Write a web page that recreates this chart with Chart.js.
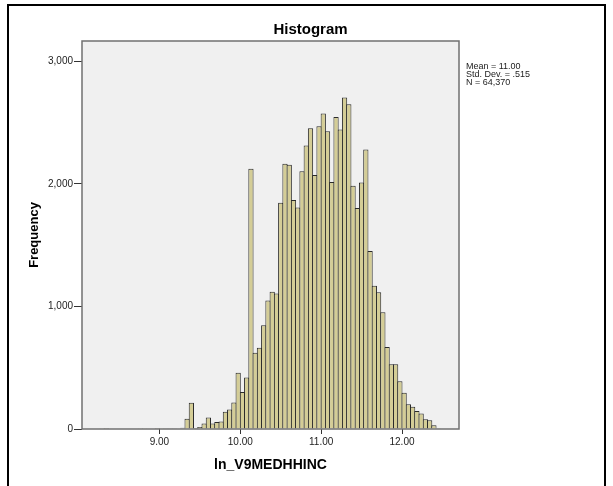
<!DOCTYPE html>
<html>
<head>
<meta charset="utf-8">
<title>Histogram</title>
<script src="https://cdn.jsdelivr.net/npm/chart.js@4.4.1/dist/chart.umd.min.js"></script>
<style>
    body { margin: 0; background: #fff; }
    canvas { display: block; }
</style>
</head>
<body>
<canvas id="histChart" width="613" height="486"></canvas>
<script>
// bin midpoints of ln_V9MEDHHINC and the count in each bin
const binMids = [
    8.2368, 8.2895, 8.3421, 8.3947, 8.4474, 8.5000, 8.5526, 8.6053, 8.6579, 8.7105,
    8.7632, 8.8158, 8.8684, 8.9211, 8.9737, 9.0263, 9.0789, 9.1316, 9.1842, 9.2368,
    9.2895, 9.3421, 9.3947, 9.4474, 9.5000, 9.5526, 9.6053, 9.6579, 9.7105, 9.7632,
    9.8158, 9.8684, 9.9211, 9.9737, 10.0263, 10.0789, 10.1316, 10.1842, 10.2368, 10.2895,
    10.3421, 10.3947, 10.4474, 10.5000, 10.5526, 10.6053, 10.6579, 10.7105, 10.7632, 10.8158,
    10.8684, 10.9211, 10.9737, 11.0263, 11.0789, 11.1316, 11.1842, 11.2368, 11.2895, 11.3421,
    11.3947, 11.4474, 11.5000, 11.5526, 11.6053, 11.6579, 11.7105, 11.7632, 11.8158, 11.8684,
    11.9211, 11.9737, 12.0263, 12.0789, 12.1316, 12.1842, 12.2368, 12.2895, 12.3421, 12.3947,
    12.4474
];
const frequencies = [
    0, 2, 1, 0, 0, 0, 0, 0, 0, 0,
    2, 2, 0, 0, 1, 2, 3, 3, 3, 5,
    10, 84, 215, 8, 16, 45, 93, 45, 57, 61,
    140, 159, 216, 460, 301, 420, 2125, 622, 663, 846,
    1048, 1120, 1107, 1847, 2165, 2156, 1869, 1808, 2104, 2314,
    2455, 2073, 2472, 2575, 2430, 2017, 2547, 2444, 2705, 2650,
    1985, 1804, 2012, 2281, 1452, 1169, 1116, 952, 669, 529,
    529, 390, 296, 201, 182, 146, 126, 80, 72, 30,
    6
];
const xTickValues = [9, 10, 11, 12];
const yTickValues = [0, 1000, 2000, 3000];
const statLines = ['Mean = 11.00', 'Std. Dev. = .515', 'N = 64,370'];

const FONT = '"Liberation Sans", Arial, sans-serif';

// white page, black outer box, grey plot background and border, stats box text
const framePlugin = {
    id: 'frame',
    beforeDraw(chart) {
        const ctx = chart.ctx;
        const a = chart.chartArea;
        ctx.save();
        ctx.fillStyle = '#fff';
        ctx.fillRect(0, 0, chart.width, chart.height);
        ctx.strokeStyle = '#000';
        ctx.lineWidth = 2;
        ctx.strokeRect(8, 5, 597, 495);
        ctx.fillStyle = '#f0f0f0';
        ctx.fillRect(a.left, a.top, a.right - a.left, a.bottom - a.top);
        ctx.restore();
    },
    afterDatasetsDraw(chart) {
        const ctx = chart.ctx;
        const a = chart.chartArea;
        ctx.save();
        ctx.strokeStyle = '#707070';
        ctx.lineWidth = 1.5;
        ctx.strokeRect(a.left, a.top, a.right - a.left, a.bottom - a.top);
        ctx.restore();
    },
    afterDraw(chart) {
        const ctx = chart.ctx;
        const a = chart.chartArea;
        ctx.save();
        ctx.fillStyle = '#222';
        ctx.font = '9px ' + FONT;
        ctx.textBaseline = 'alphabetic';
        statLines.forEach((line, i) => {
            ctx.fillText(line, a.right + 7, a.top + 28 + i * 8);
        });
        ctx.restore();
    }
};

const ctx = document.getElementById('histChart').getContext('2d');
const histChart = new Chart(ctx, {
    type: 'bar',
    data: {
        labels: binMids,
        datasets: [{
            data: frequencies,
            backgroundColor: '#d4cd96',
            borderColor: '#2a2a2a',
            borderWidth: 1,
            barPercentage: 1.235,
            categoryPercentage: 1,
            inflateAmount: 0
        }]
    },
    options: {
        responsive: false,
        animation: false,
        devicePixelRatio: 1,
        layout: { padding: { left: 8, top: 0, right: 0, bottom: 0 } },
        plugins: {
            legend: { display: false },
            tooltip: { enabled: false },
            title: {
                display: true,
                text: 'Histogram',
                color: '#000',
                font: { family: FONT, size: 15, weight: 'bold' },
                padding: { top: 21, bottom: 2 }
            }
        },
        scales: {
            x: {
                type: 'linear',
                min: 8.042,
                max: 12.705,
                offset: false,
                afterFit(scale) { scale.height = 57; },
                afterBuildTicks(scale) { scale.ticks = xTickValues.map(v => ({ value: v })); },
                grid: {
                    offset: false,
                    drawOnChartArea: false,
                    drawTicks: true,
                    tickLength: 5,
                    tickColor: '#333'
                },
                border: { display: false },
                ticks: {
                    color: '#222',
                    padding: 2,
                    font: { family: FONT, size: 10 },
                    callback: v => v.toFixed(2)
                },
                title: {
                    display: true,
                    text: 'ln_V9MEDHHINC',
                    color: '#000',
                    font: { family: FONT, size: 14, weight: 'bold' },
                    padding: { top: 0, bottom: 12.6 }
                }
            },
            y: {
                min: 0,
                max: 3167,
                afterFit(scale) { scale.width = 74; },
                afterBuildTicks(scale) { scale.ticks = yTickValues.map(v => ({ value: v })); },
                grid: {
                    drawOnChartArea: false,
                    drawTicks: true,
                    tickLength: 8,
                    tickColor: '#333'
                },
                border: { display: false },
                ticks: {
                    color: '#222',
                    padding: 1,
                    font: { family: FONT, size: 10 },
                    callback: v => v.toLocaleString('en-US')
                },
                title: {
                    display: true,
                    text: 'Frequency',
                    color: '#000',
                    font: { family: FONT, size: 13, weight: 'bold' },
                    padding: { top: 19, bottom: 0 }
                }
            },
            // empty right-hand strip that holds the stats text
            side: {
                position: 'right',
                afterFit(scale) { scale.width = 154; },
                grid: { display: false },
                border: { display: false },
                ticks: { display: false }
            }
        }
    },
    plugins: [framePlugin]
});
</script>
</body>
</html>
